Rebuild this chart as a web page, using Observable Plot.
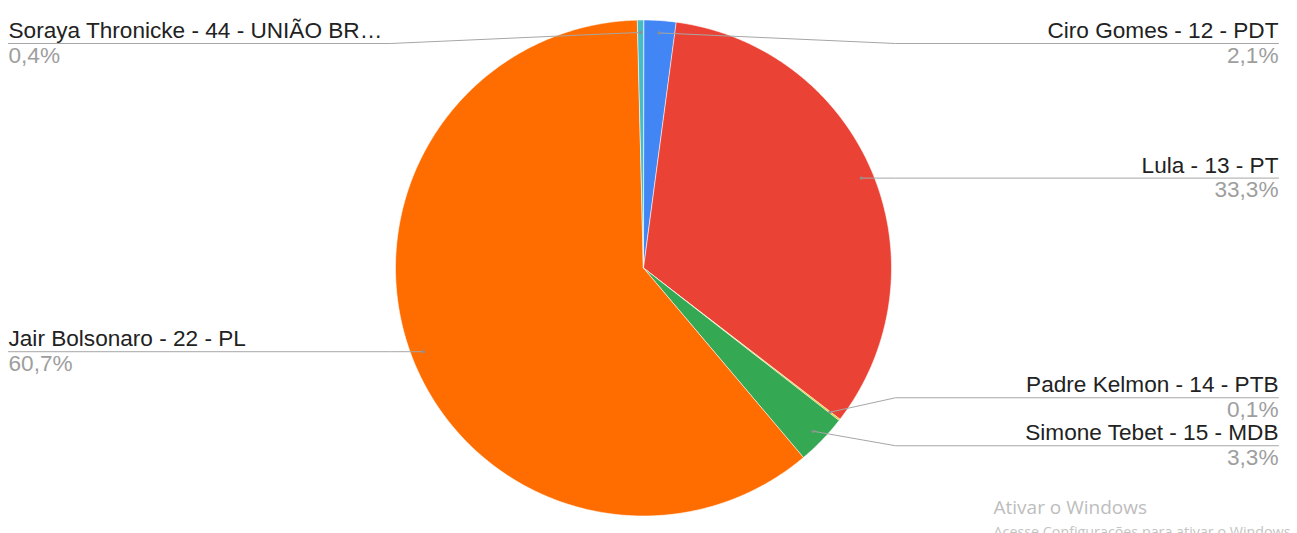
<!DOCTYPE html>
<html>
<head>
<meta charset="utf-8">
<script src="https://cdn.jsdelivr.net/npm/d3@7"></script>
<script src="https://cdn.jsdelivr.net/npm/@observablehq/plot@0.6"></script>
<style>
  html, body { margin: 0; padding: 0; background: #fff; }
  #chart svg { display: block; }
</style>
</head>
<body>
<div id="chart"></div>
<script>
// ---- data ----
const candidates = [
  "Ciro Gomes - 12 - PDT",
  "Lula - 13 - PT",
  "Padre Kelmon - 14 - PTB",
  "Simone Tebet - 15 - MDB",
  "Jair Bolsonaro - 22 - PL",
  "Soraya Thronicke - 44 - UNIÃO BR…"
];
const shares = [2.1, 33.3, 0.1, 3.3, 60.7, 0.4];
const pctLabels = ["2,1%", "33,3%", "0,1%", "3,3%", "60,7%", "0,4%"];
const colors = ["#4285F4", "#EA4335", "#FBBC04", "#34A853", "#FF6D01", "#46BDC6"];
const watermark = ["Ativar o Windows", "Acesse Configurações para ativar o Windows"];

// ---- layout ----
const W = 1297, H = 533;
const cx = 643, cy = 267.5, R = 248;
const anchorR = R * 0.95;
const rightEdge = 1278, leftEdge = 8;
const gap = 48, minY = 43;
const fs = 22.6;

const arcs = d3.pie().sort(null).value(d => d)(shares);
const pt = (a, r) => [cx + r * Math.sin(a), cy - r * Math.cos(a)];

// slice polygons
const slicePts = [];
arcs.forEach((a, i) => {
  slicePts.push({k: i, x: cx, y: cy});
  const n = Math.max(2, Math.ceil((a.endAngle - a.startAngle) / (Math.PI / 360)));
  for (let j = 0; j <= n; j++) {
    const ang = a.startAngle + (a.endAngle - a.startAngle) * j / n;
    const [x, y] = pt(ang, R);
    slicePts.push({k: i, x, y});
  }
});

// label anchors
const labels = arcs.map((a, i) => {
  const mid = (a.startAngle + a.endAngle) / 2;
  const [ax, ay] = pt(mid, anchorR);
  return {i, ax, ay, right: Math.sin(mid) >= 0, ly: ay};
});

function spread(items) {
  items.sort((a, b) => a.ay - b.ay);
  let clusters = items.map(it => ({items: [it], c: Math.max(it.ay, minY)}));
  let changed = true;
  const top = cl => cl.c - (cl.items.length - 1) * gap / 2;
  const bot = cl => cl.c + (cl.items.length - 1) * gap / 2;
  while (changed) {
    changed = false;
    clusters.forEach(cl => { if (top(cl) < minY) cl.c += minY - top(cl); });
    for (let k = 1; k < clusters.length; k++) {
      if (top(clusters[k]) - bot(clusters[k - 1]) < gap) {
        const merged = clusters[k - 1].items.concat(clusters[k].items);
        const c = d3.mean(merged, d => d.ay);
        clusters.splice(k - 1, 2, {items: merged, c});
        changed = true;
        break;
      }
    }
  }
  clusters.forEach(cl => cl.items.forEach((it, j) => { it.ly = top(cl) + j * gap; }));
}
spread(labels.filter(d => d.right));
spread(labels.filter(d => !d.right));

const leaderPts = [];
labels.forEach(d => {
  const ex = d.right ? cx + R + 4 : cx - R - 5;
  const end = d.right ? rightEdge : leftEdge;
  leaderPts.push({k: d.i, x: d.ax, y: d.ay});
  leaderPts.push({k: d.i, x: ex, y: d.ly});
  leaderPts.push({k: d.i, x: end, y: d.ly});
});

const textRows = labels.map(d => ({
  name: candidates[d.i], pct: pctLabels[d.i],
  x: d.right ? rightEdge : leftEdge,
  anchor: d.right ? "end" : "start",
  ly: d.ly
}));

const nameY = d => d.ly - 12.5;
const pctY = d => d.ly + 12;

const chart = Plot.plot({
  width: W, height: H, margin: 0,
  x: {type: "identity", axis: null},
  y: {type: "identity", axis: null},
  style: {fontFamily: "'Liberation Sans', Arial, sans-serif", background: "#fff"},
  marks: [
    Plot.line(slicePts, {x: "x", y: "y", z: "k", fill: d => colors[d.k], stroke: "#fff", strokeWidth: 0.6, curve: "linear-closed"}),
    Plot.line(leaderPts, {x: "x", y: "y", z: "k", stroke: "#a6a6a6", strokeWidth: 1}),
    Plot.dot(labels, {x: "ax", y: "ay", r: 1.6, fill: "#8f8f8f", stroke: null}),
    Plot.text(textRows.filter(d => d.anchor === "end"), {x: "x", y: nameY, text: "name", textAnchor: "end", fontSize: fs, fill: "#222"}),
    Plot.text(textRows.filter(d => d.anchor === "end"), {x: "x", y: pctY, text: "pct", textAnchor: "end", fontSize: fs, fill: "#9e9e9e"}),
    Plot.text(textRows.filter(d => d.anchor === "start"), {x: "x", y: nameY, text: "name", textAnchor: "start", fontSize: fs, fill: "#222"}),
    Plot.text(textRows.filter(d => d.anchor === "start"), {x: "x", y: pctY, text: "pct", textAnchor: "start", fontSize: fs, fill: "#9e9e9e"}),
    Plot.text([watermark[0]], {x: () => 993, y: () => 507, text: d => d, textAnchor: "start", fontSize: 19, fill: "#bdbdbd", fontFamily: "'Open Sans', 'Noto Sans', sans-serif"}),
    Plot.text([watermark[1]], {x: () => 993, y: () => 532, text: d => d, textAnchor: "start", fontSize: 14.3, fill: "#c4c4c4", fontFamily: "'Open Sans', 'Noto Sans', sans-serif"})
  ]
});
document.getElementById("chart").appendChild(chart);
</script>
</body>
</html>
